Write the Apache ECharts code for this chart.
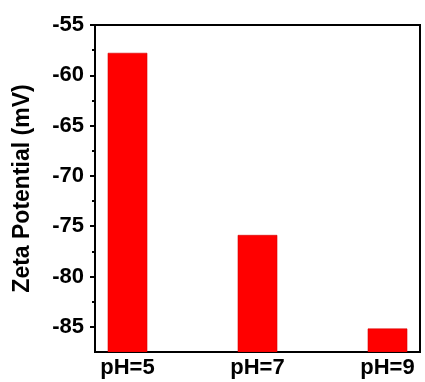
<!DOCTYPE html>
<html>
<head>
<meta charset="utf-8">
<script src="https://cdn.jsdelivr.net/npm/echarts@6/dist/echarts.min.js"></script>
<style>
  html, body { margin: 0; padding: 0; background: #fff; }
  #chart { width: 425px; height: 382px; }
</style>
</head>
<body>
<div id="chart"></div>
<script>
// Zeta potential at three pH values
const categories = ['pH=5', 'pH=7', 'pH=9'];
const zeta = [-57.8, -75.9, -85.2];
const yMajorTicks = [-85, -80, -75, -70, -65, -60, -55];
const yMinorTicks = [-82.5, -77.5, -72.5, -67.5, -62.5, -57.5];
const yMin = -87.5;
const yMax = -55;

const FONT = '"Liberation Sans", Arial, sans-serif';

const chart = echarts.init(document.getElementById('chart'), null, { renderer: 'canvas' });

const axisLine = { show: true, lineStyle: { color: '#000', width: 2 } };

chart.setOption({
  animation: false,
  backgroundColor: '#fff',
  grid: {
    left: 95, right: 5, top: 25, bottom: 30,
    show: true, borderColor: '#000', borderWidth: 2, backgroundColor: 'transparent'
  },
  xAxis: {
    type: 'value',
    min: 0.75,
    max: 3.25,
    axisLine: axisLine,
    axisTick: { show: false },
    splitLine: { show: false },
    axisLabel: {
      customValues: [1, 2, 3],
      formatter: v => categories[Math.round(v) - 1] || '',
      color: '#000',
      fontFamily: FONT,
      fontWeight: 'bold',
      fontSize: 22,
      margin: 5
    }
  },
  yAxis: [
    {
      type: 'value',
      min: yMin,
      max: yMax,
      position: 'left',
      name: 'Zeta Potential (mV)',
      nameLocation: 'middle',
      nameGap: 61,
      nameTextStyle: { color: '#000', fontFamily: FONT, fontWeight: 'bold', fontSize: 23 },
      axisLine: axisLine,
      splitLine: { show: false },
      axisTick: {
        customValues: yMajorTicks,
        inside: false,
        length: 5,
        lineStyle: { color: '#000', width: 2 }
      },
      axisLabel: {
        customValues: yMajorTicks,
        color: '#000',
        fontFamily: FONT,
        fontWeight: 'bold',
        fontSize: 22,
        margin: 11
      }
    },
    {
      // minor ticks between the labelled values
      type: 'value',
      min: yMin,
      max: yMax,
      position: 'left',
      axisLine: { show: false },
      splitLine: { show: false },
      axisLabel: { show: false },
      axisTick: {
        customValues: yMinorTicks,
        inside: false,
        length: 3,
        lineStyle: { color: '#000', width: 2 }
      }
    }
  ],
  series: [{
    type: 'custom',
    xAxisIndex: 0,
    yAxisIndex: 0,
    clip: true,
    data: zeta.map((v, i) => [i + 1, v]),
    renderItem: function (params, api) {
      const x = api.value(0);
      const top = api.coord([x, api.value(1)]);
      const base = api.coord([x, yMin]);
      const w = api.size([0.3, 0])[0];
      return {
        type: 'rect',
        shape: { x: top[0] - w / 2, y: top[1], width: w, height: base[1] - top[1] },
        style: { fill: '#ff0000', stroke: '#d40000', lineWidth: 0.6 }
      };
    }
  }]
});
</script>
</body>
</html>
